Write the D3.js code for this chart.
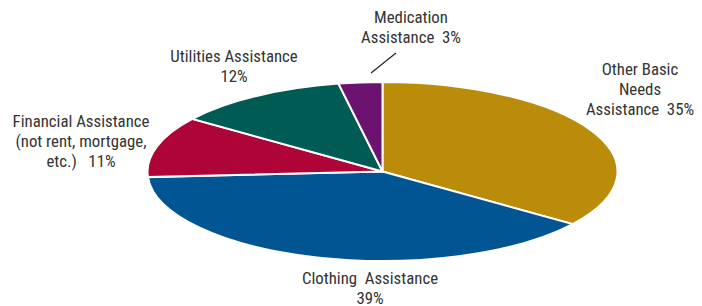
<!DOCTYPE html>
<html><head><meta charset="utf-8">
<script src="https://cdn.jsdelivr.net/npm/d3@7"></script>
<style>
html,body{margin:0;padding:0;background:#fff;}
text{font-family:"Liberation Sans Narrow","Arial Narrow","Roboto Condensed","Liberation Sans",sans-serif;font-size:16.8px;fill:#333;white-space:pre;}
</style></head>
<body><svg id="c" width="702" height="306"></svg>
<script>
const categories = ["Other Basic Needs Assistance","Clothing Assistance","Financial Assistance (not rent, mortgage, etc.)","Utilities Assistance","Medication Assistance"];
const values = [35, 39, 11, 12, 3];
const colors = ["#BA8C0A","#005592","#AF0438","#005B55","#6C1270"];
const labelLines = [
  ["Other Basic","Needs","Assistance  35%"],
  ["Clothing  Assistance","39%"],
  ["Financial Assistance","(not rent, mortgage,","etc.)   11%"],
  ["Utilities Assistance","12%"],
  ["Medication","Assistance  3%"]
];

const svg = d3.select("#c");
const cx = 382.5, cy = 171.5, rx = 235, ry = 89.5;
const pie = d3.pie().sort(null).value(d => d)(values);
const arc = d3.arc().innerRadius(0).outerRadius(rx);
const g = svg.append("g").attr("transform", `translate(${cx},${cy}) scale(1,${ry/rx})`);
g.selectAll("path").data(pie).join("path")
  .attr("d", arc)
  .attr("fill", (d,i) => colors[i])
  .attr("stroke", "#fff")
  .attr("stroke-width", 2)
  .attr("vector-effect", "non-scaling-stroke");

// label anchors (centre x, first baseline y)
const labelPos = [[640,75],[370,284],[81,127],[234,62],[411,23]];
const lh = 20;
labelLines.forEach((lines,i) => {
  const t = svg.append("text").attr("text-anchor","middle");
  lines.forEach((s,j) => {
    t.append("tspan").attr("x", labelPos[i][0]).attr("y", labelPos[i][1] + j*lh).text(s);
  });
});
// leader line for Medication
svg.append("line").attr("x1",396).attr("y1",53).attr("x2",371).attr("y2",73)
  .attr("stroke","#222").attr("stroke-width",1.3);
</script></body></html>
